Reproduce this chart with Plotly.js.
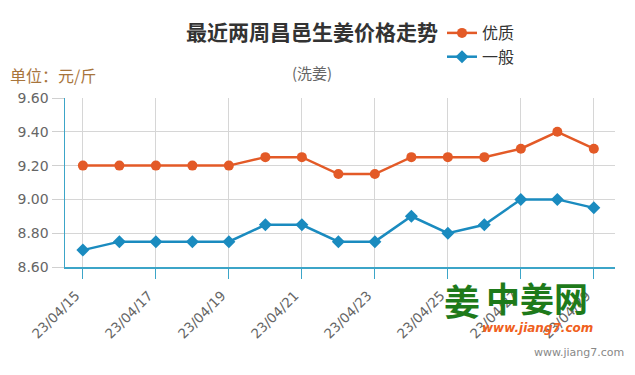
<!DOCTYPE html>
<html>
<head>
<meta charset="utf-8">
<script src="https://cdn.plot.ly/plotly-3.0.1.min.js"></script>
<style>html,body{margin:0;padding:0;background:#fff;}#chart{width:635px;height:375px;}</style>
</head>
<body>
<div id="chart"></div>
<script>
const dates = ["23/04/15","23/04/16","23/04/17","23/04/18","23/04/19","23/04/20","23/04/21","23/04/22","23/04/23","23/04/24","23/04/25","23/04/26","23/04/27","23/04/28","23/04/29"];
const premium = [9.20,9.20,9.20,9.20,9.20,9.25,9.25,9.15,9.15,9.25,9.25,9.25,9.30,9.40,9.30];
const regular = [8.70,8.75,8.75,8.75,8.75,8.85,8.85,8.75,8.75,8.90,8.80,8.85,9.00,9.00,8.95];
const tickDates = dates.filter((d,i)=>i%2===0);
const seriesNames = ["优质","一般"];

const L=65,R=615,T=98,B=267;
const px = x => (x-L)/(R-L);
const py = y => (B-y)/(B-T);
const cjk = '"Noto Sans CJK SC", "Noto Sans", sans-serif';
const latin = '"DejaVu Sans", Verdana, sans-serif';

const traces = [
  {x:dates, y:premium, name:seriesNames[0], type:'scatter', mode:'lines+markers',
   line:{color:'#e35a27', width:2.5}, marker:{symbol:'circle', size:10, color:'#e35a27'}},
  {x:dates, y:regular, name:seriesNames[1], type:'scatter', mode:'lines+markers',
   line:{color:'#1a8bbf', width:2.5}, marker:{symbol:'diamond', size:10, color:'#1a8bbf'}}
];

const layout = {
  width:635, height:375,
  margin:{l:L, r:635-R, t:T, b:375-B, pad:0},
  paper_bgcolor:'#fff', plot_bgcolor:'#fff',
  font:{family:cjk, color:'#666'},
  title:{text:'<b>最近两周昌邑生姜价格走势</b>', font:{family:cjk, size:21, color:'#333'},
         xref:'container', yref:'container', x:312/635, y:1-33/375, xanchor:'center', yanchor:'middle'},
  showlegend:true,
  legend:{x:px(442), y:py(16), xanchor:'left', yanchor:'top', orientation:'v',
          font:{family:cjk, size:16, color:'#333'}, bgcolor:'rgba(0,0,0,0)', tracegroupgap:0, itemwidth:30},
  xaxis:{type:'category', range:[-0.49,14.58], tickmode:'array', tickvals:tickDates, ticktext:tickDates,
         tickangle:-45, ticks:'outside', ticklen:10, tickcolor:'#3ca5c8', tickwidth:1,
         ticklabelstandoff:4, ticklabelshift:-7,
         showline:true, linecolor:'#3ca5c8', linewidth:1.5,
         showgrid:true, gridcolor:'#d6d6d6', gridwidth:1,
         tickfont:{family:latin, size:13.5, color:'#666'}, fixedrange:true},
  yaxis:{range:[8.6,9.6], dtick:0.2, tick0:8.6, tickformat:'.2f',
         ticks:'outside', ticklen:12, tickcolor:'#d0d0d0', tickwidth:1,
         showline:true, linecolor:'#3ca5c8', linewidth:1.5,
         showgrid:true, gridcolor:'#d6d6d6', gridwidth:1, zeroline:false,
         tickfont:{family:latin, size:14, color:'#666'}, fixedrange:true},
  annotations:[
    {text:'(洗姜)', xref:'paper', yref:'paper', x:px(312), y:py(72), xanchor:'center', yanchor:'middle', showarrow:false,
     font:{family:cjk, size:15, color:'#666'}},
    {text:'单位：元/斤', xref:'paper', yref:'paper', x:px(8), y:py(75), xanchor:'left', yanchor:'middle', showarrow:false,
     font:{family:cjk, size:16, color:'#a8753c'}},
    {text:'<b>姜</b>', xref:'paper', yref:'paper', x:px(462), y:py(300), xanchor:'center', yanchor:'middle', showarrow:false,
     font:{family:cjk, size:36, color:'#1e7a1a'}},
    {text:'<b>中姜网</b>', xref:'paper', yref:'paper', x:px(537), y:py(297), xanchor:'center', yanchor:'middle', showarrow:false,
     font:{family:cjk, size:34, color:'#1e7a1a'}},
    {text:'<b><i>www.jiang7.com</i></b>', xref:'paper', yref:'paper', x:px(537), y:py(328), xanchor:'center', yanchor:'middle', showarrow:false,
     font:{family:latin, size:12, color:'#f06020'}},
    {text:'www.jiang7.com', xref:'paper', yref:'paper', x:px(626), y:py(352), xanchor:'right', yanchor:'middle', showarrow:false,
     font:{family:latin, size:11, color:'#888'}}
  ]
};
Plotly.newPlot('chart', traces, layout, {displayModeBar:false, staticPlot:true});
</script>
</body>
</html>
